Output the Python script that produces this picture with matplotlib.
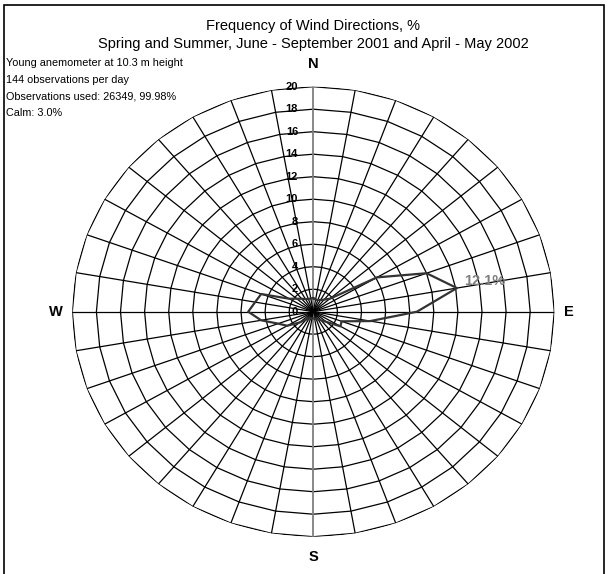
import numpy as np
import matplotlib
matplotlib.use('Agg')
import matplotlib.pyplot as plt
from matplotlib.patches import Rectangle

plt.rcParams['font.family'] = ['Liberation Sans', 'DejaVu Sans']

# Hướng gió (độ, từ Bắc theo chiều kim đồng hồ) và tần suất, %
directions = list(range(0, 360, 10))
frequency = [1.2, 1.1, 1.1, 1.2, 1.4, 1.8, 6.1, 10.0, 12.1, 8.6, 4.8, 2.5,
             2.6, 1.4, 1.0, 0.8, 0.7, 0.6, 0.6, 0.6, 0.6, 0.7, 0.9, 1.5,
             2.5, 3.1, 4.4, 5.4, 4.9, 4.6, 2.3, 1.8, 1.5, 1.3, 1.2, 1.2]
ring_values = list(range(0, 22, 2))
compass = ['N', 'E', 'S', 'W']

title = 'Frequency of Wind Directions, %\nSpring and Summer, June - September 2001 and April - May 2002'
notes = ['Young anemometer at 10.3 m height', '144 observations per day',
         'Observations used: 26349, 99.98%', 'Calm: 3.0%']

W, H = 608, 574
fig = plt.figure(figsize=(W / 100, H / 100), dpi=100)

# khung viền quanh hình
fig.patches.append(Rectangle((4 / W, -0.01), 600 / W, 1 - 5 / H + 0.01, transform=fig.transFigure,
                             fill=False, edgecolor='black', linewidth=1.2))

cx, cy, rx, ry = 313.3, 311.7, 241, 225
ax = fig.add_axes([(cx - rx) / W, (H - cy - ry) / H, 2 * rx / W, 2 * ry / H], projection='polar')
ax.set_aspect('auto')
ax.set_theta_zero_location('N')
ax.set_theta_direction(-1)
ax.set_ylim(0, ring_values[-1])
ax.spines['polar'].set_visible(False)
ax.grid(False)
ax.set_xticks([])
ax.set_yticks([])

theta = np.deg2rad(directions)
theta_closed = np.append(theta, theta[0])

# lưới vòng đa giác
for r in ring_values[1:]:
    ax.plot(theta_closed, [r] * len(theta_closed), color='black', linewidth=0.9, zorder=1)

# các tia
for d, t in zip(directions, theta):
    col = '#7f7f7f' if d in (0, 180) else 'black'
    lw = 1.3 if d in (0, 180) else 0.9
    ax.plot([t, t], [0, ring_values[-1]], color=col, linewidth=lw, zorder=1)

# nhãn trục giá trị
for r in ring_values:
    ax.annotate(str(r), xy=(0, r), xytext=(-11, 0), textcoords='offset points',
                ha='right', va='center', fontsize=8, fontweight='bold')

# đường tần suất
freq_closed = frequency + frequency[:1]
ax.plot(theta_closed, freq_closed, color='#333333', linewidth=1.6, zorder=3)

imax = int(np.argmax(frequency))
ax.text(theta[imax] - np.deg2rad(0.8), frequency[imax] + 2.4, f'{frequency[imax]:.1f}%',
        color='#808080', fontsize=10.5, fontweight='bold', ha='center', va='center', zorder=4)

# hướng la bàn
ax.text(0, 22.0, compass[0], ha='center', va='center', fontsize=10.5, fontweight='bold')
ax.text(np.pi / 2, 21.2, compass[1], ha='center', va='center', fontsize=10.5, fontweight='bold')
ax.text(np.pi, 21.8, compass[2], ha='center', va='center', fontsize=10.5, fontweight='bold')
ax.text(3 * np.pi / 2, 21.4, compass[3], ha='center', va='center', fontsize=10.5, fontweight='bold')

fig.text(313 / W, 1 - 35 / H, title, ha='center', va='center', fontsize=10.5, linespacing=1.45)
for i, line in enumerate(notes):
    fig.text(6 / W, 1 - (63 + i * 16.8) / H, line, ha='left', va='center', fontsize=7.8)

fig.savefig('out.png', dpi=100)
